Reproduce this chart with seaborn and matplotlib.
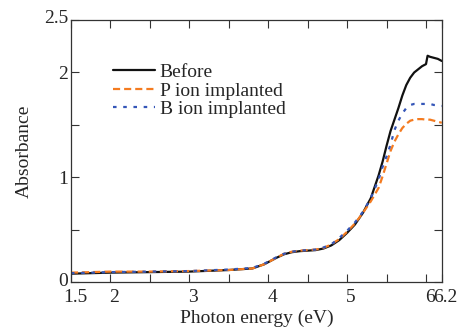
import pandas as pd
import seaborn as sns
import matplotlib.pyplot as plt
from matplotlib.ticker import FixedLocator
from matplotlib.transforms import ScaledTranslation

# photon energy (eV)
energy = [1.5, 2.0, 2.5, 3.0, 3.5, 3.8, 3.95, 4.1, 4.2, 4.3, 4.4, 4.5, 4.6,
          4.7, 4.8, 4.9, 5.0, 5.1, 5.2, 5.3, 5.4, 5.45, 5.5, 5.55, 5.6, 5.65,
          5.7, 5.75, 5.8, 5.85, 5.9, 5.95, 6.0, 6.02, 6.05, 6.1, 6.15, 6.2]

before = [0.08, 0.09, 0.095, 0.10, 0.115, 0.13, 0.17, 0.23, 0.265, 0.285,
          0.295, 0.30, 0.305, 0.32, 0.35, 0.40, 0.47, 0.55, 0.66, 0.80, 1.02,
          1.15, 1.30, 1.44, 1.55, 1.66, 1.78, 1.88, 1.95, 2.00, 2.03, 2.06,
          2.08, 2.16, 2.15, 2.14, 2.13, 2.11]

p_ion = [0.09, 0.10, 0.10, 0.105, 0.115, 0.13, 0.17, 0.23, 0.27, 0.29, 0.30,
         0.305, 0.31, 0.325, 0.36, 0.41, 0.48, 0.56, 0.66, 0.77, 0.90, 1.01,
         1.13, 1.25, 1.34, 1.41, 1.47, 1.51, 1.54, 1.55, 1.555, 1.555, 1.55,
         1.55, 1.55, 1.54, 1.53, 1.52]

b_ion = [0.085, 0.095, 0.10, 0.105, 0.12, 0.135, 0.175, 0.235, 0.27, 0.29,
         0.30, 0.305, 0.31, 0.33, 0.36, 0.42, 0.49, 0.57, 0.67, 0.80, 0.98,
         1.10, 1.20, 1.31, 1.45, 1.54, 1.61, 1.66, 1.69, 1.70, 1.70, 1.70,
         1.70, 1.70, 1.70, 1.69, 1.69, 1.68]

labels = ["Before", "P ion implanted", "B ion implanted"]
colors = ["#111111", "#f47b20", "#3556b8"]

x_ticks = [1.5, 2, 3, 4, 5, 6, 6.2]
x_tick_labels = ["1.5", "2", "3", "4", "5", "6", "6.2"]
y_ticks = [0, 1, 2, 2.5]
y_tick_labels = ["0", "1", "2", "2.5"]


def main():
    sns.set_style("ticks")
    plt.rcParams["font.family"] = ["Liberation Serif", "DejaVu Serif"]
    plt.rcParams["font.size"] = 14

    n = len(energy)
    df = pd.DataFrame({
        "energy": energy * 3,
        "absorbance": before + p_ion + b_ion,
        "sample": [labels[0]] * n + [labels[1]] * n + [labels[2]] * n,
    })

    fig = plt.figure(figsize=(4.73, 3.35), dpi=100)
    ax = fig.add_axes([0.150, 0.158, 0.784, 0.782])

    sns.lineplot(data=df, x="energy", y="absorbance", hue="sample",
                 style="sample", palette=colors,
                 dashes=[(None, None), (3.2, 1.8), (1.6, 3.0)],
                 linewidth=1.6, ax=ax)

    ax.set_xlim(1.5, 6.2)
    ax.set_ylim(0, 2.5)
    ax.set_xticks(x_ticks)
    ax.set_xticklabels(x_tick_labels)
    ax.xaxis.set_minor_locator(FixedLocator([2.5, 3.5, 4.5, 5.5]))
    ax.set_yticks(y_ticks)
    ax.set_yticklabels(y_tick_labels)
    ax.yaxis.set_minor_locator(FixedLocator([0.5, 1.5]))
    ax.tick_params(which="both", direction="in", top=True, right=True,
                   labelsize=14, width=0.8, color="#333333", length=6)
    ax.tick_params(axis="x", pad=5)
    ax.tick_params(axis="y", pad=2)
    for s in ax.spines.values():
        s.set_linewidth(0.9)
        s.set_color("#333333")

    # tick labels in the original sit a little off their ticks
    shift = ScaledTranslation(4 / 100, 0, fig.dpi_scale_trans)
    for lab in ax.get_xticklabels():
        lab.set_transform(lab.get_transform() + shift)
    ylabs = ax.get_yticklabels()
    ylabs[0].set_transform(ylabs[0].get_transform()
                           + ScaledTranslation(0, 3 / 100, fig.dpi_scale_trans))
    ylabs[-1].set_transform(ylabs[-1].get_transform()
                            + ScaledTranslation(0, 4 / 100, fig.dpi_scale_trans))

    ax.set_xlabel("Photon energy (eV)", fontsize=14, labelpad=3)
    ax.set_ylabel("Absorbance", fontsize=14, labelpad=8)

    ax.legend(frameon=False, loc="upper left", bbox_to_anchor=(0.113, 0.835),
              borderaxespad=0, borderpad=0, handlelength=2.15,
              handletextpad=0.25, labelspacing=0.05, fontsize=14)

    fig.savefig("out.png", dpi=100)


if __name__ == "__main__":
    main()
